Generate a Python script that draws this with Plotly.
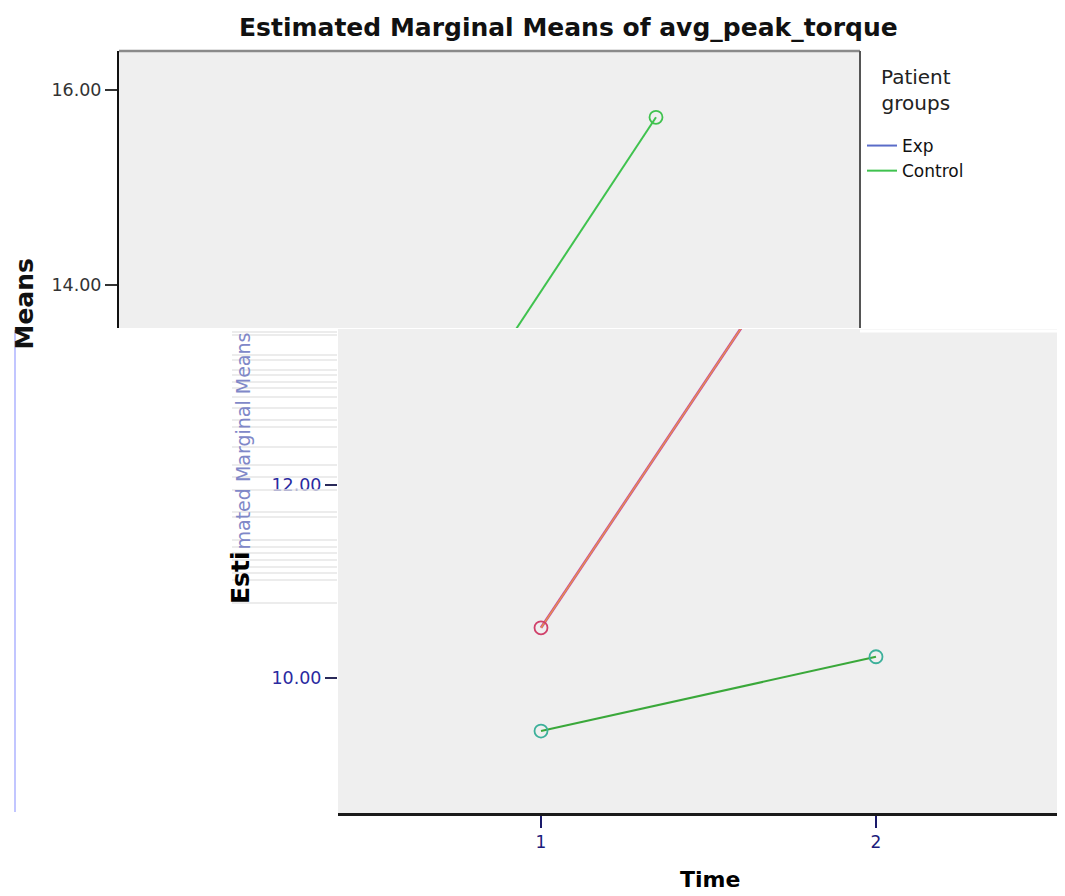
import plotly.graph_objects as go

# The page body adds an 8px margin, so the figure is drawn 8px in from the corner.
OFF = 8
W, H = 1065 - OFF, 896 - OFF

# ---------------- data ----------------
time_points = [1, 2]
time_labels = ["1", "2"]
groups = ["Exp", "Control"]
exp_means = [9.45, 10.22]
control_means = [10.52, 15.72]
top_ticks = [14, 16]
top_tick_labels = ["14.00", "16.00"]
low_ticks = [10, 12]
low_tick_labels = ["10.00", "12.00"]

FONT = "DejaVu Sans"


def px(x):
    return (x - OFF) / W


def py(y):
    return 1 - (y - OFF) / H


fig = go.Figure()

# ---- upper (intact) panel ----
fig.add_trace(go.Scatter(x=time_points, y=exp_means, mode="lines", name=groups[0],
                         line=dict(color="#5a6cc8", width=2), xaxis="x", yaxis="y"))
fig.add_trace(go.Scatter(x=time_points, y=control_means, mode="lines", name=groups[1],
                         line=dict(color="#3fc24e", width=2), xaxis="x", yaxis="y"))
fig.add_trace(go.Scatter(x=time_points, y=control_means, mode="markers", showlegend=False,
                         marker=dict(symbol="circle-open", size=13, color="#3fc24e",
                                     line=dict(width=1.8)),
                         xaxis="x", yaxis="y"))

# ---- lower (shifted, glitched) panel ----
fig.add_trace(go.Scatter(x=time_points, y=control_means, mode="lines", showlegend=False,
                         line=dict(color="#c8489a", width=2.8), xaxis="x2", yaxis="y2"))
fig.add_trace(go.Scatter(x=time_points, y=control_means, mode="lines+markers", showlegend=False,
                         line=dict(color="#eaa23a", width=1.1),
                         marker=dict(symbol="circle-open", size=13, color="#d0406a",
                                     line=dict(width=1.8)),
                         xaxis="x2", yaxis="y2"))
fig.add_trace(go.Scatter(x=time_points, y=exp_means, mode="lines+markers", showlegend=False,
                         line=dict(color="#3aa83a", width=2),
                         marker=dict(symbol="circle-open", size=13, color="#3cb09a",
                                     line=dict(width=1.8)),
                         xaxis="x2", yaxis="y2"))

# pixel geometry of panels (page pixels)
top_l, top_r, top_t, top_b = 119, 860, 51, 328
low_l, low_r, low_t, low_b = 338, 1065, 329, 813


def xrange_for(left, right, px1, px_per_unit):
    return [1 + (left - px1) / px_per_unit, 1 + (right - px1) / px_per_unit]


def yrange_for(top, bottom, ref_val, ref_px, px_per_unit):
    return [ref_val - (bottom - ref_px) / px_per_unit, ref_val + (ref_px - top) / px_per_unit]


shapes = [
    # upper panel frame (top & right border)
    dict(type="line", xref="x domain", yref="y domain", x0=0, x1=1, y0=1, y1=1,
         line=dict(color="#8a8a8a", width=2.5)),
    dict(type="line", xref="x domain", yref="y domain", x0=1, x1=1, y0=0, y1=1,
         line=dict(color="#555555", width=2)),
    # glitch: faint blue vertical line on the far left
    dict(type="line", xref="paper", yref="paper", x0=px(15), x1=px(15), y0=py(330), y1=py(812),
         line=dict(color="#c2c6ff", width=2)),
    # glitch: white strip above the lower panel on the right
    dict(type="line", xref="paper", yref="paper", x0=px(860), x1=px(1065), y0=py(331), y1=py(331),
         line=dict(color="#ffffff", width=3)),
]
for gy in [332, 335, 355, 360, 370, 375, 382, 388, 397, 408, 420, 427, 447, 465, 477,
           490, 512, 517, 540, 547, 553, 560, 567, 573, 580, 603]:
    shapes.append(dict(type="line", xref="paper", yref="paper", x0=px(232), x1=px(337),
                       y0=py(gy), y1=py(gy), line=dict(color="#e6e6e6", width=1.5)))

annotations = [
    dict(text="Estimated Marginal Means of avg_peak_torque", x=px(568), y=py(28),
         xref="paper", yref="paper", xanchor="center", yanchor="middle", showarrow=False,
         font=dict(family=FONT, size=25, color="#111111", weight="bold")),
    dict(text="Patient<br>groups", x=px(916), y=py(90), xref="paper", yref="paper",
         xanchor="center", yanchor="middle", showarrow=False,
         font=dict(family=FONT, size=20, color="#222222")),
    dict(text="Means", x=px(24), y=py(257), xref="paper", yref="paper", textangle=-90,
         xanchor="center", yanchor="top", showarrow=False,
         font=dict(family=FONT, size=25, color="#111111", weight="bold")),
    dict(text="Esti", x=px(240), y=py(606), xref="paper", yref="paper", textangle=-90,
         xanchor="center", yanchor="bottom", showarrow=False,
         font=dict(family=FONT, size=25, color="#000000", weight="bold")),
    dict(text="mated Marginal Means", x=px(242), y=py(552), xref="paper", yref="paper",
         textangle=-90, xanchor="center", yanchor="bottom", showarrow=False,
         font=dict(family=FONT, size=19, color="#8088c8")),
    dict(text="Time", x=px(710), y=py(879), xref="paper", yref="paper",
         xanchor="center", yanchor="middle", showarrow=False,
         font=dict(family=FONT, size=22, color="#000000", weight="bold")),
]

fig.update_layout(
    autosize=False,
    width=W, height=H,
    margin=dict(l=0, r=0, t=0, b=0),
    paper_bgcolor="#ffffff",
    plot_bgcolor="#efefef",
    font=dict(family=FONT),
    showlegend=True,
    legend=dict(x=px(862), y=py(128), xanchor="left", yanchor="top",
                bgcolor="rgba(0,0,0,0)", font=dict(family=FONT, size=17, color="#111111"),
                itemwidth=30),
    xaxis=dict(domain=[px(top_l), px(top_r)], anchor="y",
               range=xrange_for(top_l, top_r, 321, 335),
               showticklabels=False, ticks="", showgrid=False, zeroline=False, showline=False),
    yaxis=dict(domain=[py(top_b), py(top_t)], anchor="x",
               range=yrange_for(top_t, top_b, 16, 90, 97.5),
               tickvals=top_ticks, ticktext=top_tick_labels,
               ticks="outside", ticklen=12, tickwidth=2, tickcolor="#333333",
               tickfont=dict(family=FONT, size=17.5, color="#333333"),
               showgrid=False, zeroline=False, showline=True, linecolor="#111111", linewidth=2),
    xaxis2=dict(domain=[px(low_l), min(1.0, px(low_r))], anchor="y2",
                range=xrange_for(low_l, min(low_r, OFF + W), 541, 335),
                tickvals=time_points, ticktext=time_labels,
                ticks="outside", ticklen=12, tickwidth=2, tickcolor="#1a1a6a",
                tickfont=dict(family=FONT, size=17, color="#1c1c7c"),
                showgrid=False, zeroline=False, showline=True, linecolor="#1a1a1a", linewidth=3),
    yaxis2=dict(domain=[py(low_b), py(low_t)], anchor="x2",
                range=yrange_for(low_t, low_b, 10, 678, 96.5),
                tickvals=low_ticks, ticktext=low_tick_labels,
                ticks="outside", ticklen=12, tickwidth=2, tickcolor="#2a2a5a",
                tickfont=dict(family=FONT, size=17.5, color="#2a2aa0"),
                showgrid=False, zeroline=False, showline=False),
    shapes=shapes,
    annotations=annotations,
)

fig.write_html("out.html")
